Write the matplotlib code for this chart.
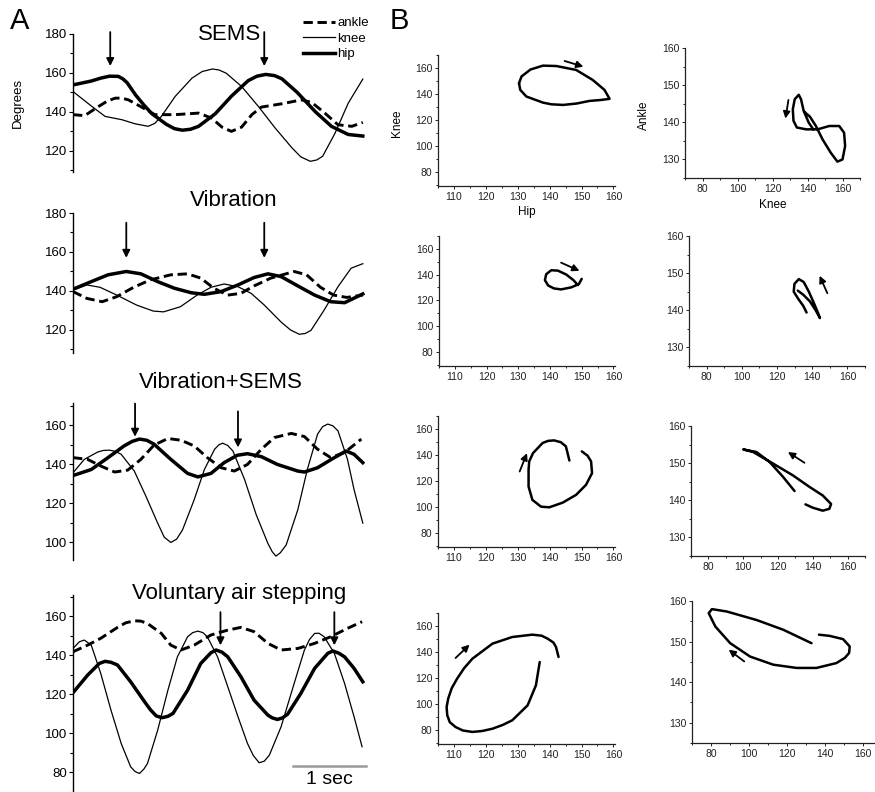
import matplotlib.pyplot as plt
from matplotlib.ticker import MultipleLocator

plt.rcParams['font.family'] = ['Liberation Sans', 'DejaVu Sans']

W, H = 875, 792

# ---------------- Panel A: joint angle traces (time in s, degrees) ----------------
sems_hip_t = [0, 0.25, 0.38, 0.50, 0.62, 0.68, 0.74, 0.86, 0.97, 1.08, 1.28, 1.39, 1.50, 1.61, 1.72, 1.95, 2.17, 2.40, 2.52, 2.64, 2.76, 2.86, 3.07, 3.32, 3.54, 3.77, 3.97]
sems_hip = [153.8, 155.8, 157.3, 158.3, 158.2, 157.0, 155.0, 148.5, 143.5, 139.0, 133.5, 131.3, 130.5, 131.0, 132.5, 139.0, 148.0, 156.0, 158.3, 159.2, 158.6, 157.0, 150.0, 140.0, 132.5, 128.3, 127.5]
sems_knee_t = [0, 0.26, 0.44, 0.67, 0.85, 1.03, 1.12, 1.21, 1.40, 1.63, 1.77, 1.91, 2.00, 2.10, 2.31, 2.54, 2.77, 3.00, 3.12, 3.25, 3.34, 3.42, 3.59, 3.77, 3.97]
sems_knee = [150.4, 142.7, 137.6, 135.9, 133.8, 132.5, 134.0, 137.6, 147.9, 157.3, 160.7, 162.0, 161.5, 159.8, 153.0, 142.7, 131.6, 121.4, 116.8, 114.5, 115.2, 117.1, 129.0, 144.4, 156.8]
sems_ankle_t = [0, 0.16, 0.35, 0.47, 0.58, 0.67, 0.76, 0.94, 1.12, 1.40, 1.72, 1.90, 2.04, 2.17, 2.31, 2.45, 2.58, 2.86, 3.13, 3.27, 3.45, 3.63, 3.82, 3.97]
sems_ankle = [138.5, 138.0, 142.7, 145.5, 147.0, 147.0, 146.1, 142.4, 138.5, 138.5, 139.3, 136.7, 132.1, 129.9, 132.1, 138.5, 142.4, 144.1, 146.1, 144.8, 139.3, 133.3, 132.5, 134.5]

vib_hip_t = [0, 0.25, 0.48, 0.73, 0.93, 1.16, 1.39, 1.62, 1.80, 2.03, 2.26, 2.48, 2.67, 2.85, 3.08, 3.31, 3.53, 3.72, 3.97]
vib_hip = [140.9, 144.8, 148.3, 150.0, 148.8, 144.8, 141.4, 139.1, 138.3, 139.7, 143.1, 146.9, 148.8, 147.4, 142.6, 137.9, 134.5, 134.0, 138.5]
vib_knee_t = [0, 0.19, 0.37, 0.60, 0.87, 1.10, 1.24, 1.47, 1.70, 1.89, 2.07, 2.26, 2.44, 2.62, 2.85, 2.98, 3.10, 3.18, 3.26, 3.44, 3.63, 3.81, 3.97]
vib_knee = [140.5, 143.1, 141.9, 137.9, 132.8, 129.7, 129.3, 131.9, 137.9, 141.9, 143.6, 142.2, 138.8, 132.8, 124.1, 120.0, 117.8, 118.2, 119.8, 130.2, 142.2, 151.7, 154.0]
vib_ankle_t = [0, 0.19, 0.40, 0.60, 0.83, 1.06, 1.34, 1.57, 1.75, 1.93, 2.12, 2.30, 2.48, 2.71, 3.03, 3.20, 3.39, 3.57, 3.75, 3.97]
vib_ankle = [139.7, 136.2, 134.5, 137.1, 141.9, 145.7, 148.3, 148.8, 146.6, 141.4, 137.9, 138.8, 142.6, 146.6, 150.0, 148.3, 141.9, 137.9, 136.7, 137.9]

vs_hip_t = [0, 0.25, 0.48, 0.70, 0.81, 0.91, 1.01, 1.11, 1.34, 1.57, 1.71, 1.89, 2.07, 2.25, 2.39, 2.58, 2.80, 3.08, 3.17, 3.35, 3.54, 3.74, 3.85, 3.97]
vs_hip = [134.1, 137.2, 143.3, 149.3, 151.6, 152.8, 152.2, 150.2, 142.4, 135.2, 133.4, 135.2, 140.7, 144.5, 145.3, 143.8, 139.8, 136.4, 135.9, 138.1, 142.4, 146.7, 145.0, 140.7]
vs_knee_t = [0, 0.155, 0.34, 0.42, 0.50, 0.58, 0.66, 0.84, 1.00, 1.16, 1.25, 1.34, 1.42, 1.50, 1.66, 1.80, 1.94, 2.00, 2.05, 2.12, 2.19, 2.35, 2.51, 2.67, 2.73, 2.78, 2.84, 2.92, 3.08, 3.21, 3.35, 3.42, 3.49, 3.56, 3.63, 3.76, 3.85, 3.97]
vs_knee = [135.5, 142.4, 146.2, 147.0, 147.1, 146.5, 145.0, 136.4, 123.4, 109.7, 102.5, 99.8, 101.5, 106.2, 121.7, 137.2, 147.6, 149.9, 150.7, 149.5, 146.7, 132.1, 114.0, 99.3, 95.0, 92.8, 94.5, 98.5, 116.6, 137.2, 155.3, 159.2, 160.5, 159.6, 157.0, 142.4, 126.9, 109.7]
vs_ankle_t = [0, 0.20, 0.38, 0.57, 0.75, 0.93, 1.11, 1.30, 1.48, 1.66, 1.84, 2.03, 2.21, 2.39, 2.58, 2.76, 2.99, 3.17, 3.35, 3.53, 3.72, 3.95]
vs_ankle = [143.3, 142.4, 139.0, 135.9, 136.9, 142.4, 149.7, 153.1, 152.2, 149.3, 143.3, 138.1, 136.4, 139.8, 147.6, 153.6, 155.7, 154.1, 147.6, 143.3, 145.9, 152.8]

as_hip_t = [0, 0.20, 0.36, 0.44, 0.52, 0.61, 0.79, 0.98, 1.06, 1.14, 1.22, 1.30, 1.37, 1.57, 1.75, 1.89, 1.96, 2.04, 2.12, 2.30, 2.48, 2.67, 2.73, 2.80, 2.87, 2.94, 3.12, 3.31, 3.49, 3.56, 3.64, 3.72, 3.85, 3.97]
as_hip = [120.7, 129.7, 135.7, 136.8, 136.3, 134.9, 126.3, 116.1, 112.0, 108.8, 107.9, 108.6, 110.1, 122.0, 135.7, 141.2, 142.6, 141.5, 139.1, 128.9, 116.9, 109.2, 107.8, 107.0, 107.8, 109.7, 120.3, 133.2, 140.9, 142.1, 141.0, 139.1, 133.2, 126.3]
as_knee_t = [0, 0.087, 0.155, 0.25, 0.38, 0.52, 0.66, 0.79, 0.85, 0.91, 0.97, 1.02, 1.16, 1.30, 1.43, 1.57, 1.64, 1.71, 1.78, 1.84, 1.98, 2.12, 2.26, 2.39, 2.47, 2.55, 2.62, 2.69, 2.85, 3.03, 3.17, 3.24, 3.31, 3.37, 3.44, 3.58, 3.72, 3.85, 3.96]
as_knee = [143.4, 146.8, 147.7, 145.1, 130.6, 111.8, 94.7, 82.7, 80.3, 79.3, 81.5, 84.4, 101.5, 122.0, 139.1, 149.4, 151.5, 152.3, 151.5, 149.4, 139.1, 123.8, 108.4, 94.7, 88.5, 84.8, 85.6, 88.7, 103.2, 125.5, 142.6, 148.0, 151.1, 151.2, 149.4, 140.9, 125.5, 108.4, 93.0]
as_ankle_t = [0, 0.20, 0.38, 0.61, 0.72, 0.84, 0.93, 1.02, 1.21, 1.34, 1.48, 1.66, 1.89, 2.12, 2.30, 2.48, 2.67, 2.85, 3.08, 3.31, 3.53, 3.76, 3.96]
as_ankle = [141.7, 145.1, 148.6, 154.2, 156.5, 157.6, 157.4, 156.2, 151.1, 145.1, 142.6, 145.1, 150.3, 152.8, 154.2, 152.0, 146.0, 142.6, 143.4, 146.0, 149.4, 153.7, 157.1]

a_titles = ['SEMS', 'Vibration', 'Vibration+SEMS', 'Voluntary air stepping']
# arrows: (time, tail deg, head deg)
a_arrows = [
    [(0.51, 181, 163.5), (2.62, 181, 163.5)],
    [(0.73, 175, 157), (2.62, 175, 157)],
    [(0.85, 171, 154), (2.26, 167, 148.5)],
    [(2.02, 162, 145), (3.58, 162, 145)],
]

# ---------------- Panel B: angle-angle loops ----------------
kh_sems_hip = [130.4, 131.2, 134.0, 137.9, 142.1, 148.3, 153.5, 157.2, 158.8, 156.0, 152.5, 148.5, 144.2, 140.5, 137.9, 132.7, 130.8, 130.4]
kh_sems_knee = [148.2, 153.5, 158.8, 161.8, 161.5, 158.5, 150.8, 143.1, 136.2, 135.3, 134.6, 132.6, 131.5, 132.0, 133.3, 138.0, 143.1, 148.2]
ak_sems_knee = [138.2, 141.4, 144.8, 148.6, 153.3, 157.1, 160.0, 161.5, 160.9, 158.1, 152.4, 145.8, 139.2, 133.9, 132.0, 131.6, 132.7, 135.0, 136.3, 137.8, 140.7, 143.3]
ak_sems_ankle = [142.8, 141.5, 139.0, 135.4, 131.8, 129.4, 130.0, 133.6, 137.2, 139.0, 139.0, 138.1, 138.1, 138.6, 140.4, 143.5, 146.2, 147.4, 146.2, 143.1, 139.9, 138.1]

kh_vib_hip = [150.0, 149.1, 146.7, 143.5, 141.2, 139.4, 138.4, 138.8, 140.4, 142.5, 145.1, 147.4, 148.8]
kh_vib_knee = [136.7, 132.6, 130.1, 128.5, 129.3, 131.6, 135.7, 140.3, 143.4, 143.1, 140.1, 135.7, 131.9]
ak_vib_knee = [136.8, 134.9, 132.2, 129.5, 129.9, 132.4, 135.2, 138.1, 141.0, 143.2, 144.4, 142.1, 138.7, 134.9, 131.8]
ak_vib_ankle = [139.4, 141.2, 143.0, 145.0, 147.1, 148.4, 147.6, 145.0, 141.9, 139.4, 137.9, 139.9, 142.4, 144.2, 145.3]

kh_vs_hip = [146.2, 145.1, 143.5, 141.4, 139.5, 137.8, 134.8, 133.6, 133.4, 133.4, 134.6, 137.3, 139.9, 144.1, 148.3, 151.4, 153.3, 153.0, 151.9, 150.1]
kh_vs_knee = [135.7, 146.6, 149.8, 151.2, 150.8, 149.2, 141.4, 135.0, 128.5, 115.6, 105.3, 100.1, 99.6, 103.2, 109.2, 116.9, 125.9, 135.0, 139.4, 142.7]
ak_vs_knee = [129.5, 122.9, 115.2, 107.6, 100.0, 105.7, 117.1, 128.6, 138.1, 145.7, 150.5, 149.5, 145.7, 140.0, 135.8]
ak_vs_ankle = [142.5, 146.3, 150.3, 153.0, 153.7, 153.0, 149.9, 146.7, 143.6, 141.3, 139.0, 137.7, 137.2, 138.0, 138.9]

kh_as_hip = [136.9, 135.7, 133.1, 128.3, 125.3, 122.1, 118.8, 115.8, 112.8, 110.5, 108.7, 107.9, 107.7, 108.2, 109.3, 111.0, 113.2, 115.8, 122.1, 128.3, 134.6, 137.5, 139.4, 141.2, 142.0, 142.8]
kh_as_knee = [132.2, 114.2, 98.8, 87.3, 83.7, 80.8, 79.0, 78.3, 79.4, 82.1, 85.8, 91.1, 97.5, 104.0, 112.0, 119.4, 127.5, 134.8, 146.4, 151.5, 153.3, 152.5, 150.2, 147.2, 143.8, 136.1]
ak_as_knee = [132.9, 118.1, 104.1, 88.4, 80.5, 78.8, 82.3, 90.1, 100.6, 112.8, 125.1, 135.5, 146.0, 150.5, 152.7, 153.0, 149.5, 142.5, 136.8]
ak_as_ankle = [149.6, 152.9, 155.3, 157.4, 158.0, 157.0, 153.7, 149.6, 146.3, 144.3, 143.5, 143.5, 144.7, 146.0, 147.2, 148.8, 150.6, 151.4, 151.7]

# arrows: (x tail, y tail, x head, y head)
b_left_arrows = [(144.7, 165.4, 150.6, 161.0), (143.5, 149.3, 149.3, 142.9),
                 (130.6, 127.2, 132.9, 141.4), (110.5, 135.3, 114.9, 145.6)]
b_right_arrows = [(129.1, 146.0, 127.4, 141.0), (148.6, 144.6, 144.2, 149.3),
                  (135.2, 150.1, 125.7, 153.0), (97.5, 145.1, 89.3, 148.0)]


def px_axes(fig, left, top, right, bottom):
    return fig.add_axes([left / W, 1 - bottom / H, (right - left) / W, (bottom - top) / H])


def fig_text(fig, x, y, s, **kw):
    fig.text(x / W, 1 - y / H, s, ha='center', va='center', **kw)


def arrow(ax, x0, y0, x1, y1, ms=11):
    ax.annotate('', xy=(x1, y1), xytext=(x0, y0), annotation_clip=False,
                arrowprops=dict(arrowstyle='-|>', color='black', lw=1.3,
                                mutation_scale=ms, shrinkA=0, shrinkB=0))


fig = plt.figure(figsize=(W / 100, H / 100), dpi=100)

# ----- A -----
a_boxes = [(73, 34, 365, 172, 109, 180, 120),
           (73, 213, 365, 353, 108.2, 180, 120),
           (73, 403, 365, 560, 90.8, 171.3, 100),
           (73, 595, 365, 792, 69.8, 170.8, 80)]
a_data = [(sems_ankle_t, sems_ankle, sems_knee_t, sems_knee, sems_hip_t, sems_hip),
          (vib_ankle_t, vib_ankle, vib_knee_t, vib_knee, vib_hip_t, vib_hip),
          (vs_ankle_t, vs_ankle, vs_knee_t, vs_knee, vs_hip_t, vs_hip),
          (as_ankle_t, as_ankle, as_knee_t, as_knee, as_hip_t, as_hip)]
a_title_pos = [(230, 35), (234, 200), (221, 383), (239, 594)]

a_axes = []
for i in range(4):
    l, t, r, b, y0, y1, first = a_boxes[i]
    ax = px_axes(fig, l, t, r, b)
    ta, ya, tk, yk, th, yh = a_data[i]
    ax.plot(ta, ya, color='black', lw=2.1, ls=(0, (3.2, 1.6)), label='ankle')
    ax.plot(tk, yk, color='black', lw=0.9, label='knee', solid_joinstyle='round')
    ax.plot(th, yh, color='black', lw=2.5, label='hip', solid_joinstyle='round')
    ax.set_xlim(0, 4.0)
    ax.set_ylim(y0, y1)
    ax.set_yticks([v for v in range(first, 181, 20) if v <= y1])
    ax.yaxis.set_minor_locator(MultipleLocator(10))
    ax.tick_params(axis='y', which='major', direction='out', length=3, width=0.8, labelsize=9.5, pad=1.5)
    ax.tick_params(axis='y', which='minor', direction='out', length=2, width=0.8)
    ax.set_xticks([])
    for s in ['top', 'right', 'bottom']:
        ax.spines[s].set_visible(False)
    ax.spines['left'].set_linewidth(1.0)
    for (tx, ytail, yhead) in a_arrows[i]:
        arrow(ax, tx, ytail, tx, yhead)
    fig_text(fig, a_title_pos[i][0], a_title_pos[i][1], a_titles[i], fontsize=16)
    a_axes.append(ax)

a_axes[0].legend(loc='upper left', bbox_to_anchor=(303 / W, 1 - 17 / H), bbox_transform=fig.transFigure,
                 frameon=False, fontsize=9.5, handlelength=2.4, handletextpad=0.2,
                 labelspacing=0.25, borderpad=0, borderaxespad=0)

# scale bar
a_axes[3].plot([3.01, 4.01], [83, 83], color='#9a9a9a', lw=1.8, clip_on=False)
a_axes[3].text(3.51, 76.2, '1 sec', ha='center', va='center', fontsize=14)

fig_text(fig, 18, 103, 'Degrees', fontsize=9.5, rotation=90)
fig_text(fig, 20, 21, 'A', fontsize=21)
fig_text(fig, 399, 21, 'B', fontsize=21)

# ----- B -----
left_boxes = [(438, 55, 615, 186), (439, 236, 615, 366), (438, 416, 615, 547), (438, 613, 615, 744)]
right_boxes = [(685, 48, 860, 178), (689, 236, 865, 366), (691, 426, 865, 556), (692, 601, 882, 743)]
left_loops = [(kh_sems_hip, kh_sems_knee), (kh_vib_hip, kh_vib_knee),
              (kh_vs_hip, kh_vs_knee), (kh_as_hip, kh_as_knee)]
right_loops = [(ak_sems_knee, ak_sems_ankle), (ak_vib_knee, ak_vib_ankle),
               (ak_vs_knee, ak_vs_ankle), (ak_as_knee, ak_as_ankle)]


def style_b(ax):
    for s in ['top', 'right']:
        ax.spines[s].set_visible(False)
    for s in ['left', 'bottom']:
        ax.spines[s].set_linewidth(0.9)
        ax.spines[s].set_color('#222222')
    ax.tick_params(which='major', direction='out', length=2.5, width=0.7, labelsize=7.5, pad=1.5, colors='#222222')
    ax.tick_params(which='minor', direction='out', length=1.5, width=0.6)


for i in range(4):
    ax = px_axes(fig, *left_boxes[i])
    x, y = left_loops[i]
    ax.plot(x, y, color='black', lw=1.8, solid_capstyle='round', solid_joinstyle='round')
    ax.set_xlim(105, 160.5)
    ax.set_ylim(69, 170)
    ax.set_xticks(range(110, 161, 10))
    ax.set_yticks(range(80, 161, 20))
    ax.xaxis.set_minor_locator(MultipleLocator(5))
    ax.yaxis.set_minor_locator(MultipleLocator(10))
    style_b(ax)
    arrow(ax, *b_left_arrows[i], ms=10)

    ax = px_axes(fig, *right_boxes[i])
    x, y = right_loops[i]
    ax.plot(x, y, color='black', lw=1.8, solid_capstyle='round', solid_joinstyle='round')
    ax.set_xlim(70, 170)
    ax.set_ylim(125, 160)
    ax.set_xticks(range(80, 161, 20))
    ax.set_yticks(range(130, 161, 10))
    ax.xaxis.set_minor_locator(MultipleLocator(10))
    ax.yaxis.set_minor_locator(MultipleLocator(5))
    style_b(ax)
    arrow(ax, *b_right_arrows[i], ms=10)

fig_text(fig, 397, 123, 'Knee', fontsize=8.5, rotation=90)
fig_text(fig, 527, 212, 'Hip', fontsize=8.5)
fig_text(fig, 644, 115, 'Ankle', fontsize=8.5, rotation=90)
fig_text(fig, 773, 205, 'Knee', fontsize=8.5)

fig.savefig('out.png', dpi=100)
